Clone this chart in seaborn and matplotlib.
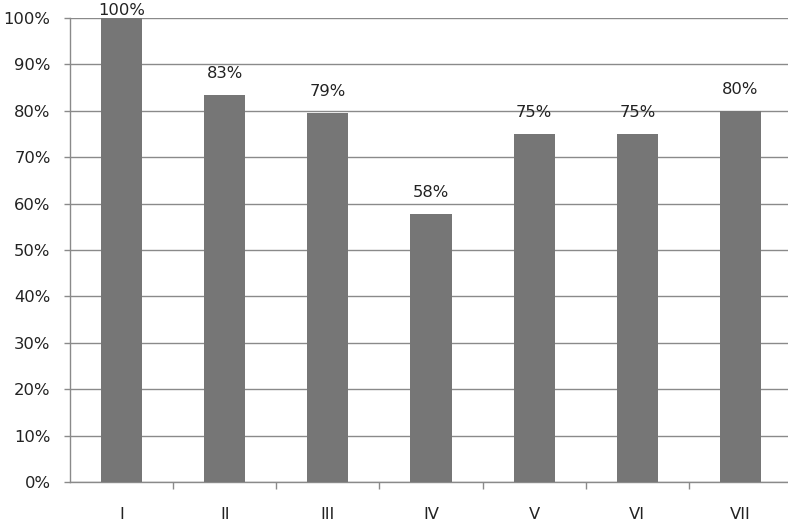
import matplotlib
matplotlib.use("Agg")
import matplotlib.pyplot as plt
import seaborn as sns
import pandas as pd
from matplotlib.ticker import FixedLocator, PercentFormatter

categories = ["I", "II", "III", "IV", "V", "VI", "VII"]
values = [1.00, 0.834, 0.795, 0.578, 0.75, 0.75, 0.80]
labels = ["100%", "83%", "79%", "58%", "75%", "75%", "80%"]
yticks = [i / 10 for i in range(11)]

df = pd.DataFrame({"cat": categories, "val": values})

sns.set_theme(style="white")
plt.rcParams["font.family"] = ["DejaVu Sans"]
plt.rcParams["font.sans-serif"] = ["DejaVu Sans"]
FS = 11.8

fig = plt.figure(figsize=(7.88, 5.29), dpi=100)
ax = fig.add_axes([70 / 788, 47 / 529, 722 / 788, 464 / 529])

sns.barplot(data=df, x="cat", y="val", color="#767676", width=0.4,
            saturation=1, linewidth=0, ax=ax, zorder=3)

ax.set_xlim(-0.5, len(categories) - 0.5)
ax.set_ylim(0, 1.0)
ax.set_yticks(yticks)
ax.yaxis.set_major_formatter(PercentFormatter(1.0, decimals=0))
ax.yaxis.grid(True, color="#8a8a8a", linewidth=1.0, zorder=0)
ax.set_axisbelow(True)
ax.set_xlabel("")
ax.set_ylabel("")

for s in ["top", "right"]:
    ax.spines[s].set_visible(False)
for s in ["left", "bottom"]:
    ax.spines[s].set_color("#8a8a8a")
    ax.spines[s].set_linewidth(1.0)

ax.tick_params(axis="y", which="major", length=4, width=1, color="#8a8a8a",
               pad=10, labelsize=FS, labelcolor="#222222", left=True)
ax.tick_params(axis="x", which="major", length=0, pad=18, labelsize=FS,
               labelcolor="#222222")
for t in ax.get_xticklabels() + ax.get_yticklabels():
    t.set_fontfamily("DejaVu Sans")
ax.xaxis.set_minor_locator(FixedLocator([i + 0.5 for i in range(len(categories) - 1)]))
ax.tick_params(axis="x", which="minor", length=5, width=1, color="#8a8a8a",
               bottom=True)

for i, (v, lab) in enumerate(zip(values, labels)):
    pad = 10 if v < 0.95 else 0
    ax.annotate(lab, xy=(i, v), xytext=(0, pad), textcoords="offset points",
                ha="center", va="bottom", fontsize=FS, color="#222222",
                fontfamily="DejaVu Sans", annotation_clip=False)

fig.savefig("out.png", dpi=100)
